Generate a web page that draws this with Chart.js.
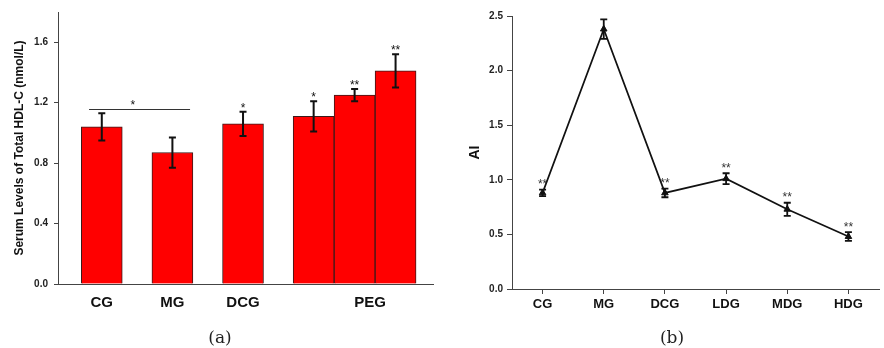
<!DOCTYPE html>
<html><head><meta charset="utf-8">
<script src="https://cdn.jsdelivr.net/npm/chart.js@4"></script>
<style>
html,body{margin:0;padding:0;background:#fff;width:884px;height:348px;overflow:hidden}
.box{position:absolute;top:0;height:348px}
#boxA{left:0;width:440px}
#boxB{left:440px;width:444px}
.cap{position:absolute;top:328px;line-height:18px;font-family:'DejaVu Serif',serif;font-size:17px;color:#222;transform:translateX(-50%)}
</style></head><body>
<div id="boxA" class="box"><canvas id="ca"></canvas></div>
<div id="boxB" class="box"><canvas id="cb"></canvas></div>
<div class="cap" style="left:220px">(a)</div>
<div class="cap" style="left:672px">(b)</div>
<script>
// ---- data: panel (a) ----
const groupLabels = ['CG', 'MG', 'DCG', 'PEG'];
const groupLabelX = [1, 2, 3, 4.8];
const barX = [1, 2, 3, 4, 4.58, 5.16];
const hdlMean = [1.04, 0.87, 1.06, 1.11, 1.25, 1.41];
const hdlErr = [0.09, 0.10, 0.08, 0.10, 0.04, 0.11];
const hdlSig = ['', '', '*', '*', '**', '**'];
const hdlPairSig = {from: 0.82, to: 2.25, y: 1.16, starX: 1.44, text: '*'};
const hdlTicks = [0, 0.4, 0.8, 1.2, 1.6];

// ---- data: panel (b) ----
const aiLabels = ['CG', 'MG', 'DCG', 'LDG', 'MDG', 'HDG'];
const aiMean = [0.88, 2.38, 0.88, 1.01, 0.73, 0.48];
const aiErr = [0.03, 0.09, 0.04, 0.05, 0.06, 0.04];
const aiSig = ['**', '', '**', '**', '**', '**'];

Chart.defaults.font.family = "'Liberation Sans', Arial, sans-serif";
Chart.defaults.color = '#111';

function errorPlugin(errs, sigs, o) {
  return {
    id: 'errs',
    afterDatasetsDraw(chart) {
      const ctx = chart.ctx, meta = chart.getDatasetMeta(0), ys = chart.scales.y;
      const vals = chart.data.datasets[0].data;
      ctx.save();
      meta.data.forEach((el, i) => {
        const d = vals[i];
        const v = (typeof d === 'object') ? d.y : d;
        const x = el.x;
        const yt = ys.getPixelForValue(v + errs[i]);
        const yb = ys.getPixelForValue(v - errs[i]);
        ctx.strokeStyle = '#111';
        ctx.lineWidth = o.lw;
        ctx.beginPath();
        ctx.moveTo(x, yt); ctx.lineTo(x, yb);
        ctx.moveTo(x - o.cap, yt); ctx.lineTo(x + o.cap, yt);
        ctx.moveTo(x - o.cap, yb); ctx.lineTo(x + o.cap, yb);
        ctx.stroke();
        if (sigs[i]) {
          ctx.fillStyle = o.starColor;
          ctx.font = o.starFont;
          ctx.textAlign = 'center';
          ctx.textBaseline = 'alphabetic';
          ctx.fillText(sigs[i], x, yt + o.starDy);
        }
      });
      ctx.restore();
    }
  };
}

const pairPlugin = {
  id: 'pair',
  afterDatasetsDraw(chart) {
    const ctx = chart.ctx, xs = chart.scales.x, ys = chart.scales.y;
    const y = Math.round(ys.getPixelForValue(hdlPairSig.y)) + 0.5;
    ctx.save();
    ctx.strokeStyle = '#333';
    ctx.lineWidth = 1;
    ctx.beginPath();
    ctx.moveTo(xs.getPixelForValue(hdlPairSig.from), y);
    ctx.lineTo(xs.getPixelForValue(hdlPairSig.to), y);
    ctx.stroke();
    ctx.fillStyle = '#111';
    ctx.font = '12px "Liberation Sans", Arial';
    ctx.textAlign = 'center';
    ctx.textBaseline = 'alphabetic';
    ctx.fillText(hdlPairSig.text, xs.getPixelForValue(hdlPairSig.starX), y - 1);
    ctx.restore();
  }
};

new Chart(document.getElementById('ca'), {
  type: 'bar',
  data: {
    datasets: [{
      data: barX.map((x, i) => ({x: x, y: hdlMean[i]})),
      backgroundColor: '#ff0000',
      borderColor: '#3a1a1a',
      borderWidth: 1,
      barPercentage: 1,
      categoryPercentage: 1
    }]
  },
  options: {
    responsive: true,
    maintainAspectRatio: false,
    animation: false,
    devicePixelRatio: 1,
    layout: {padding: {top: 12, right: 7, bottom: 0, left: 0}},
    plugins: {legend: {display: false}, tooltip: {enabled: false}},
    scales: {
      x: {
        type: 'linear',
        offset: false,
        min: 0.38,
        max: 5.69,
        afterBuildTicks: s => { s.ticks = groupLabelX.map(v => ({value: v})); },
        afterFit: s => { s.height = 64; },
        ticks: {
          autoSkip: false,
          maxRotation: 0,
          padding: 2,
          font: {size: 15, weight: 'bold'},
          color: '#111',
          callback: (v, i) => groupLabels[i]
        },
        grid: {display: false, offset: false},
        border: {display: true, color: '#444', width: 1}
      },
      y: {
        min: 0,
        max: 1.8,
        afterBuildTicks: s => { s.ticks = hdlTicks.map(v => ({value: v})); },
        afterFit: s => { s.width = 58; },
        ticks: {
          padding: 6,
          font: {size: 10, weight: 'bold'},
          color: '#222',
          callback: v => v.toFixed(1)
        },
        grid: {drawOnChartArea: false, drawTicks: true, tickLength: 4, color: '#444'},
        border: {display: true, color: '#444', width: 1},
        title: {
          display: true,
          text: 'Serum Levels of Total HDL-C (nmol/L)',
          font: {size: 12, weight: 'bold'},
          color: '#111',
          padding: {top: 12, bottom: 0}
        }
      }
    }
  },
  plugins: [errorPlugin(hdlErr, hdlSig, {lw: 2, cap: 3.5, starColor: '#111', starFont: '12px "Liberation Sans", Arial', starDy: 0}), pairPlugin]
});

new Chart(document.getElementById('cb'), {
  type: 'line',
  data: {
    labels: aiLabels,
    datasets: [{
      data: aiMean,
      borderColor: '#111',
      borderWidth: 1.7,
      backgroundColor: '#111',
      pointStyle: 'triangle',
      pointRadius: 3.8,
      pointBackgroundColor: '#111',
      pointBorderColor: '#111',
      pointBorderWidth: 1,
      tension: 0,
      fill: false
    }]
  },
  options: {
    responsive: true,
    maintainAspectRatio: false,
    animation: false,
    devicePixelRatio: 1,
    layout: {padding: {top: 16, right: 0, bottom: 0, left: 0}},
    plugins: {legend: {display: false}, tooltip: {enabled: false}},
    scales: {
      x: {
        type: 'category',
        offset: true,
        afterFit: s => { s.height = 59; },
        ticks: {
          autoSkip: false,
          maxRotation: 0,
          padding: 3,
          font: {size: 13, weight: 'bold'},
          color: '#111'
        },
        grid: {drawOnChartArea: false, drawTicks: true, tickLength: 5, color: '#444', offset: false},
        border: {display: true, color: '#444', width: 1}
      },
      y: {
        min: 0,
        max: 2.5,
        afterFit: s => { s.width = 72; },
        ticks: {
          stepSize: 0.5,
          padding: 4,
          font: {size: 10, weight: 'bold'},
          color: '#222',
          callback: v => v.toFixed(1)
        },
        grid: {drawOnChartArea: false, drawTicks: true, tickLength: 5, color: '#444'},
        border: {display: true, color: '#444', width: 1},
        title: {
          display: true,
          text: 'AI',
          font: {size: 14, weight: 'bold'},
          color: '#111',
          padding: {top: 27, bottom: 0}
        }
      }
    }
  },
  plugins: [errorPlugin(aiErr, aiSig, {lw: 1.8, cap: 3.5, starColor: '#333', starFont: '12px "Liberation Sans", Arial', starDy: -1.5})]
});
</script>
</body></html>
